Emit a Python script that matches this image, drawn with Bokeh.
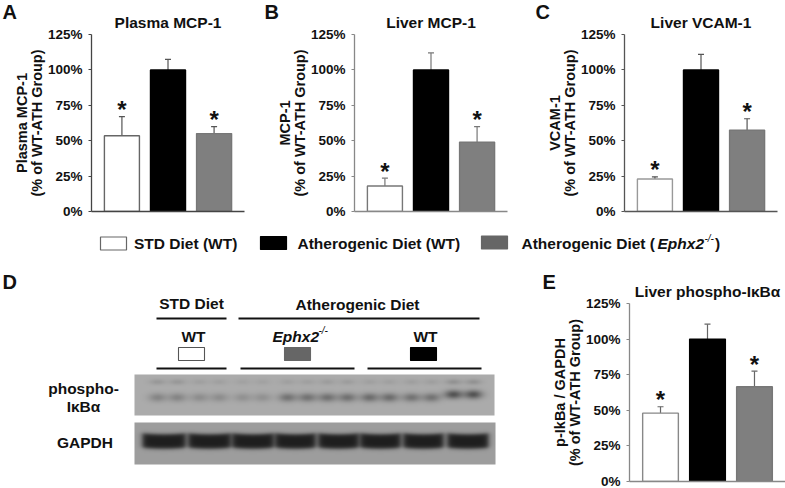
import numpy as np
from bokeh.embed import file_html
from bokeh.resources import INLINE
from bokeh.plotting import figure
from bokeh.layouts import column, row
from bokeh.models import (Range1d, FixedTicker, PrintfTickFormatter, Whisker, TeeHead,
                          ColumnDataSource, Spacer)
from bokeh.core.properties import value

FONT = "Liberation Sans"

groups = ["STD Diet (WT)", "Atherogenic Diet (WT)", "Atherogenic Diet (Ephx2-/-)"]
ticks = [0, 25, 50, 75, 100, 125]

plasma_mcp1 = [53.5, 100, 55]
plasma_mcp1_top = [67, 107.5, 60]
liver_mcp1 = [18, 100, 49]
liver_mcp1_top = [23.5, 112, 60]
liver_vcam1 = [23, 100, 57.5]
liver_vcam1_top = [24.5, 111, 65.5]
liver_pikb = [48, 100, 66.5]
liver_pikb_top = [52.5, 110.5, 77.5]
stars = [True, False, True]

lane_centers = [167, 209, 252, 297, 337, 379, 421, 463]
phospho_strength = [38, 30, 26, 56, 58, 62, 56, 88]
upper_strength = [20, 12, 10, 12, 15, 12, 13, 26]
gapdh_left = [142, 188, 232, 275, 318, 360, 403, 447]
gapdh_right = [185, 230, 273, 315, 358, 400, 443, 488]

BAR_FILL = ["#ffffff", "#000000", "#7f7f7f"]


def panel(title, ylabel, vals, tops, width, left, top_b, right, height, frame_h,
          axis_c="#555555", white_c="#777777", err_c="#555555", title_off=1):
    p = figure(width=width, height=height, output_backend="svg", toolbar_location=None,
               x_range=Range1d(-0.66, 2.66), y_range=Range1d(0, 125),
               min_border_left=left, min_border_right=right, min_border_top=top_b,
               min_border_bottom=height - top_b - frame_h,
               outline_line_color=None, background_fill_color="white")
    p.grid.visible = False
    p.title.text = title
    p.title.align = "center"
    p.title.offset = title_off
    p.title.standoff = 7
    p.title.text_font = FONT
    p.title.text_font_size = "15.5px"
    p.title.text_font_style = "bold"
    p.title.text_color = "#111111"
    xs = list(range(len(vals)))
    lines = [white_c, "#000000", "#777777"]
    p.vbar(x=xs, top=vals, bottom=0, width=0.76, fill_color=BAR_FILL, line_color=lines, line_width=1.4)
    src = ColumnDataSource(dict(x=xs, v=vals, t=tops))
    p.add_layout(Whisker(source=src, base="x", lower="v", upper="t", dimension="height",
                         line_color=err_c, line_width=1.2, lower_head=None,
                         upper_head=TeeHead(size=6, line_color=err_c, line_width=1.2)))
    sx = [x for x, s in zip(xs, stars) if s]
    sy = [t for t, s in zip(tops, stars) if s]
    p.text(x=sx, y=sy, text=["*"] * len(sx), text_font=value(FONT), text_font_style="bold",
           text_font_size="24px", text_align="center", text_baseline="middle", y_offset=-7,
           text_color="#111111")
    ax = p.yaxis[0]
    ax.ticker = FixedTicker(ticks=ticks)
    ax.formatter = PrintfTickFormatter(format="%d%%")
    ax.axis_label = ylabel
    ax.axis_label_text_font = FONT
    ax.axis_label_text_font_size = "14.5px"
    ax.axis_label_text_font_style = "bold"
    ax.axis_label_text_color = "#111111"
    ax.axis_label_standoff = 0
    ax.axis_label_text_line_height = 0.95
    ax.major_label_text_font = FONT
    ax.major_label_text_font_size = "13.5px"
    ax.major_label_text_font_style = "bold"
    ax.major_label_text_color = "#111111"
    ax.major_label_standoff = 6
    ax.major_tick_out = 3
    ax.major_tick_in = 0
    ax.minor_tick_out = 0
    ax.minor_tick_in = 0
    ax.axis_line_color = axis_c
    ax.major_tick_line_color = axis_c
    ax.axis_line_width = 1.3
    xa = p.xaxis[0]
    xa.ticker = FixedTicker(ticks=[])
    xa.major_label_text_font_size = "0px"
    xa.major_tick_line_color = None
    xa.minor_tick_line_color = None
    xa.axis_line_color = axis_c
    xa.axis_line_width = 1.3
    return p


def canvas(w, h):
    p = figure(width=w, height=h, output_backend="svg", toolbar_location=None, title=None,
               x_range=Range1d(0, w), y_range=Range1d(0, h), x_axis_type=None, y_axis_type=None,
               min_border=0, outline_line_color=None, background_fill_color="white")
    p.grid.visible = False
    return p


def txt(p, x, y, s, size="15.5px", style="bold", align="left", shift=-5.5):
    # y is the page baseline; this backend sets alphabetic text about 5.5px low
    p.text(x=[x], y=[y], text=[s], text_font=value(FONT), text_font_style=style,
           text_font_size=size, text_align=align, text_baseline="alphabetic",
           y_offset=shift, text_color="#111111")


A = panel("Plasma MCP-1", "Plasma MCP-1\n(% of WT-ATH Group)", plasma_mcp1, plasma_mcp1_top,
          262, 91, 34, 18, 225, 178, axis_c="#444444", white_c="#666666")
B = panel("Liver MCP-1", "MCP-1\n(% of WT-ATH Group)", liver_mcp1, liver_mcp1_top,
          268, 92, 33, 23, 225, 178, axis_c="#888888", err_c="#777777")
C = panel("Liver VCAM-1", "VCAM-1\n(% of WT-ATH Group)", liver_vcam1, liver_vcam1_top,
          255, 94, 34, 8, 225, 178, axis_c="#555555", white_c="#999999")
E = panel("Liver phospho-I\u03baB\u03b1", "p-IkBa / GAPDH\n(% of WT-ATH Group)", liver_pikb, liver_pikb_top,
          255, 99, 38, 0, 223, 178, axis_c="#888888", white_c="#888888", err_c="#666666")

# legend strip, y 225..265 of the page
L = canvas(785, 40)
Y = lambda y: 265 - y
for x0, c, lc, y0 in [(100, "#ffffff", "#666666", 236.5), (260, "#000000", "#000000", 236), (481, "#666666", "#666666", 235.5)]:
    L.quad(left=x0, right=x0 + 26, top=Y(y0), bottom=Y(y0 + 13), fill_color=c, line_color=lc, line_width=1.2)
txt(L, 133.5, Y(248.5), groups[0])
txt(L, 297, Y(248.5), groups[1])
txt(L, 521, Y(248.5), "Atherogenic Diet (")
txt(L, 657, Y(248.5), "Ephx2", style="bold italic")
txt(L, 704, Y(243), "-/-", size="10px", style="italic")
txt(L, 714.5, Y(248.5), ")")

# blot panel, y 265..488 of the page
D = canvas(530, 223)
Y2 = lambda y: 488 - y
txt(D, 191, Y2(308), "STD Diet", align="center")
txt(D, 357, Y2(309), "Atherogenic Diet", align="center")
txt(D, 193, Y2(341), "WT", align="center")
txt(D, 272, Y2(341), "Ephx2", style="bold italic")
txt(D, 318, Y2(335), "-/-", size="10px", style="italic")
txt(D, 425, Y2(341), "WT", align="center")
txt(D, 83, Y2(393), "phospho-", align="center")
txt(D, 83, Y2(411), "I\u03baB\u03b1", align="center")
txt(D, 84.5, Y2(447), "GAPDH", align="center")
D.segment(x0=[156, 238], x1=[226, 479], y0=[Y2(318)] * 2, y1=[Y2(318)] * 2, line_color="#111111", line_width=2.2)
D.segment(x0=[156, 240, 367], x1=[226, 354, 481], y0=[Y2(368)] * 3, y1=[Y2(368)] * 3, line_color="#111111", line_width=2.2)
for x0, c, lc in [(178, "#ffffff", "#555555"), (284, "#666666", "#666666"), (410, "#000000", "#000000")]:
    D.quad(left=x0, right=x0 + 26, top=Y2(347), bottom=Y2(360), fill_color=c, line_color=lc, line_width=1.1)


def to_rgba(g):
    v = np.clip(g, 0, 255).astype(np.uint32)
    return (255 << 24) | (v << 16) | (v << 8) | v


# phospho-IkBa blot (page x 134..494, y 374..415)
xx, yy = np.meshgrid(np.arange(134, 494) + 0.5, np.arange(374, 415) + 0.5)
g1 = np.full(xx.shape, 172.0)
for c, s, u in zip(lane_centers, phospho_strength, upper_strength):
    bandy = 394.0 if c > 450 else 397.0
    for lobe in (-10, 10):
        g1 -= s * np.exp(-((xx - c - lobe) / 9.0) ** 2 - ((yy - bandy) / 4.4) ** 2)
        g1 -= u * np.exp(-((xx - c - lobe) / 8.0) ** 2 - ((yy - 381.5) / 2.8) ** 2)
g1 = g1[::-1]

# GAPDH blot (page x 134..495, y 422..464)
xx2, yy2 = np.meshgrid(np.arange(134, 495) + 0.5, np.arange(422, 464) + 0.5)
g2 = np.full(xx2.shape, 158.0)
for lft, rgt in zip(gapdh_left, gapdh_right):
    mid = (lft + rgt) / 2
    half = (rgt - lft) / 2
    cy = 440.0 + (1 - ((xx2 - mid) / half) ** 2)
    px = 1 / (1 + np.exp((lft - xx2) / 1.6)) / (1 + np.exp((xx2 - rgt) / 1.6))
    py = 1 / (1 + np.exp((np.abs(yy2 - cy) - 7.2) / 1.1))
    g2 -= 128 * px * py
g2 = g2[::-1]

D.image_rgba(image=[to_rgba(g1)], x=134, y=Y2(415), dw=360, dh=41)
D.image_rgba(image=[to_rgba(g2)], x=134, y=Y2(464), dw=361, dh=42)

# panel letters, on a clear sheet over the page
T = canvas(785, 295)
T.background_fill_color = None
T.border_fill_color = None
Y3 = lambda y: 295 - y
for s, x, y in [("A", 2, 18), ("B", 264, 18), ("C", 535, 18), ("D", 2, 288), ("E", 542, 288)]:
    txt(T, x, Y3(y), s, size="20px", shift=-7)

root = column(row(A, B, C, spacing=0), L, row(Spacer(width=530, height=223), E, spacing=0),
              row(D, styles={"position": "absolute", "left": "0px", "top": "265px"}),
              row(T, styles={"position": "absolute", "left": "0px", "top": "0px"}), spacing=0,
              styles={"position": "absolute", "left": "0px", "top": "0px"})
open("out.html", "w").write(file_html(root, INLINE))
